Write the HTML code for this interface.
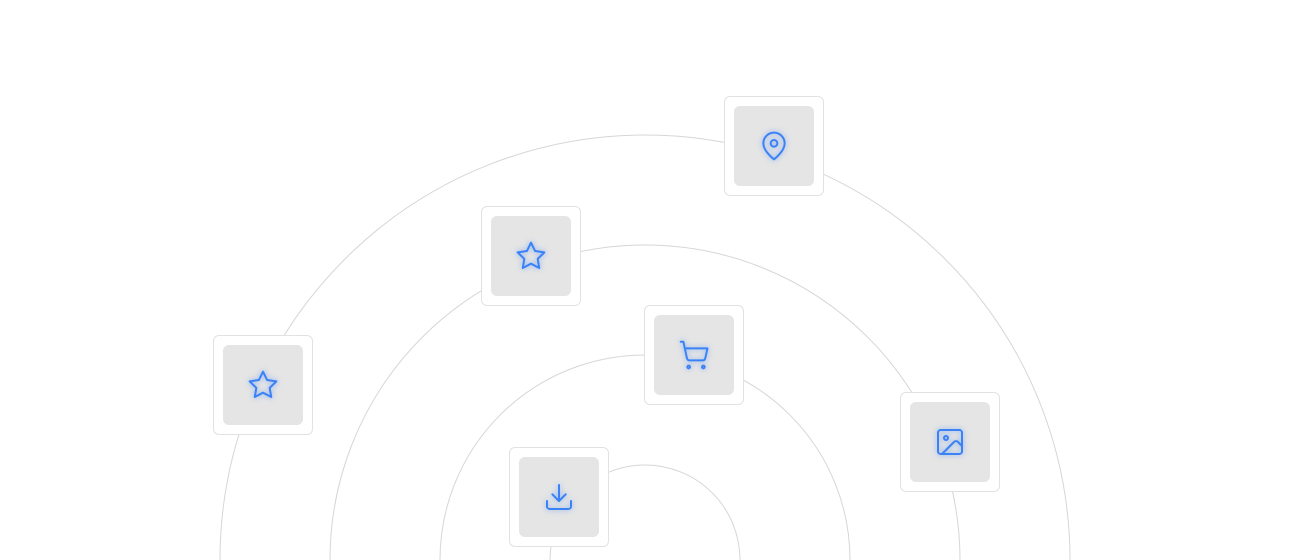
<!DOCTYPE html>
<html><head><style>
html,body{margin:0;padding:0;background:#fff;width:1290px;height:560px;overflow:hidden;position:relative;font-family:"Liberation Sans",sans-serif}
.b{position:absolute;width:98px;height:98px;border:1px solid #e2e2e2;border-radius:6px;background:#fff;box-sizing:content-box}
.b .i{position:absolute;left:9px;top:9px;width:80px;height:80px;background:#e5e5e5;border-radius:6px;display:flex;align-items:center;justify-content:center}
.b svg{width:32px;height:32px;fill:none;stroke:#3b82f6;stroke-width:1.5;stroke-linecap:round;stroke-linejoin:round;filter:drop-shadow(0 0 3px rgba(59,130,246,.6))}
</style></head><body>
<svg width="1290" height="560" style="position:absolute;left:0;top:0">
<g fill="none" stroke="#d6d6d6" stroke-width="1">
<circle cx="645" cy="560" r="425"/>
<circle cx="645" cy="560" r="315"/>
<circle cx="645" cy="560" r="205"/>
<circle cx="645" cy="560" r="95"/>
</g></svg>
<div class="b" style="left:724px;top:96px"><div class="i"><svg viewBox="0 0 24 24"><path d="M20 10c0 6-8 12-8 12s-8-6-8-12a8 8 0 0 1 16 0Z"/><circle cx="12" cy="10" r="2.5"/></svg></div></div>
<div class="b" style="left:481px;top:206px"><div class="i"><svg viewBox="0 0 24 24"><polygon points="12 2 15.09 8.26 22 9.27 17 14.14 18.18 21.02 12 17.77 5.82 21.02 7 14.14 2 9.27 8.91 8.26 12 2"/></svg></div></div>
<div class="b" style="left:644px;top:305px"><div class="i"><svg viewBox="0 0 24 24"><circle cx="8" cy="21" r="1"/><circle cx="19" cy="21" r="1"/><path d="M2.05 2.05h2l2.66 12.42a2 2 0 0 0 2 1.58h9.78a2 2 0 0 0 1.95-1.57l1.65-7.43H5.12"/></svg></div></div>
<div class="b" style="left:213px;top:335px"><div class="i"><svg viewBox="0 0 24 24"><polygon points="12 2 15.09 8.26 22 9.27 17 14.14 18.18 21.02 12 17.77 5.82 21.02 7 14.14 2 9.27 8.91 8.26 12 2"/></svg></div></div>
<div class="b" style="left:900px;top:392px"><div class="i"><svg viewBox="0 0 24 24"><rect x="3" y="3" width="18" height="18" rx="2"/><circle cx="9" cy="9" r="1.5"/><path d="m21 15-3.1-3.1a2 2 0 0 0-2.8 0L6 21"/></svg></div></div>
<div class="b" style="left:509px;top:447px"><div class="i"><svg viewBox="0 0 24 24"><path d="M21 15v4a2 2 0 0 1-2 2H5a2 2 0 0 1-2-2v-4"/><polyline points="7 10 12 15 17 10"/><line x1="12" y1="15" x2="12" y2="3"/></svg></div></div>
</body></html>
